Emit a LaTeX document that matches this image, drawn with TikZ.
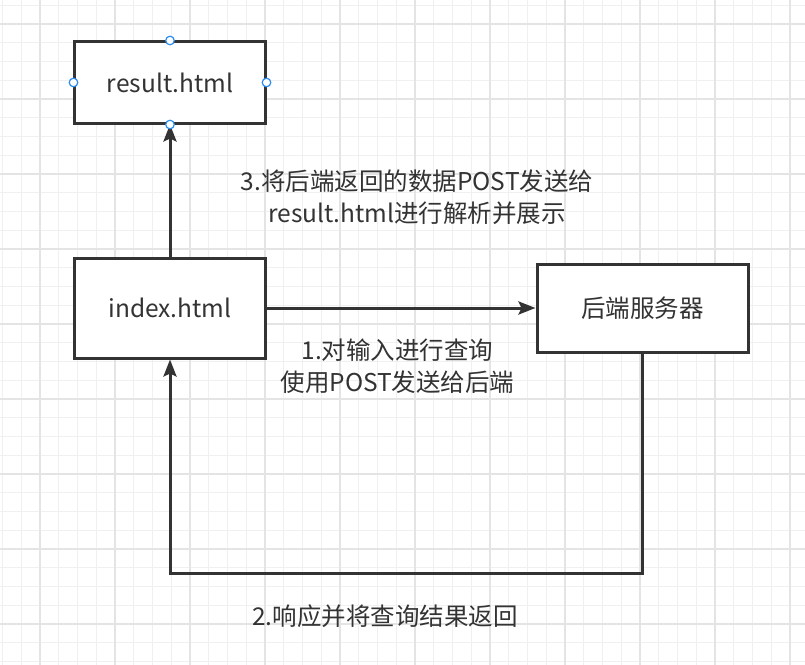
\documentclass[tikz,border=0pt]{standalone}
\usepackage{fontspec}
\setmainfont{Noto Sans CJK SC}
\usetikzlibrary{arrows.meta}
\definecolor{ink}{HTML}{333333}
\definecolor{gridminor}{HTML}{F0F0F0}
\definecolor{gridmajor}{HTML}{E4E4E4}
\definecolor{handle}{HTML}{2B8CF0}
\tikzset{
  box/.style={draw=ink, line width=3bp, fill=white, inner sep=0pt, text=ink,
    font=\fontsize{24.5bp}{32bp}\selectfont},
  lbl/.style={text=ink, align=center, inner sep=0pt,
    font=\fontsize{24.5bp}{32bp}\selectfont},
  conn/.style={draw=ink, line width=3bp, -{Stealth[length=17bp,width=13bp,inset=3bp]}},
  hdl/.style={circle, draw=handle, fill=white, line width=1.2bp, minimum size=8.6bp, inner sep=0pt},
}
\begin{document}
\begin{tikzpicture}[x=1bp,y=-1bp]
\useasboundingbox (0,0) rectangle (805,665);
\fill[white] (0,0) rectangle (805,665);
% grid
\foreach \i in {0,...,42} {
  \pgfmathsetmacro{\gx}{2.5+18.75*\i}
  \draw[gridminor, line width=1.1bp] (\gx,0) -- (\gx,665);
}
\foreach \i in {0,...,35} {
  \pgfmathsetmacro{\gy}{5.25+18.75*\i}
  \draw[gridminor, line width=1.1bp] (0,\gy) -- (805,\gy);
}
\foreach \i in {0,...,10} {
  \pgfmathsetmacro{\gx}{40+75*\i}
  \draw[gridmajor, line width=1.1bp] (\gx,0) -- (\gx,665);
}
\foreach \i in {0,...,8} {
  \pgfmathsetmacro{\gy}{24+75*\i}
  \draw[gridmajor, line width=1.1bp] (0,\gy) -- (805,\gy);
}
% boxes
\node[box, minimum width=190bp, minimum height=81bp] (result) at (170,82.5) {result.html};
\node[box, minimum width=190bp, minimum height=100bp] (index) at (170,308) {index.html};
\node[box, minimum width=211bp, minimum height=88bp] (server) at (642.5,308) {后端服务器};
% labels
\node[lbl] (l3) at (417,197) {3.将后端返回的数据POST发送给\\result.html进行解析并展示};
\node[lbl] (l1) at (397.5,366) {1.对输入进行查询\\使用POST发送给后端};
\node[lbl] (l2) at (385,616) {2.响应并将查询结果返回};
% connectors
\coordinate (c1) at (642.5,573);
\draw[conn] (index.north) -- (result.south);
\draw[conn] (index.east) -- (server.west);
\draw[conn] (server.south) -- (c1) -| (index.south);
% handles
\node[hdl] (hn) at (result.north) {};
\node[hdl] (hs) at (result.south) {};
\node[hdl] (he) at (result.east) {};
\node[hdl] (hw) at (result.west) {};
\end{tikzpicture}
\end{document}
